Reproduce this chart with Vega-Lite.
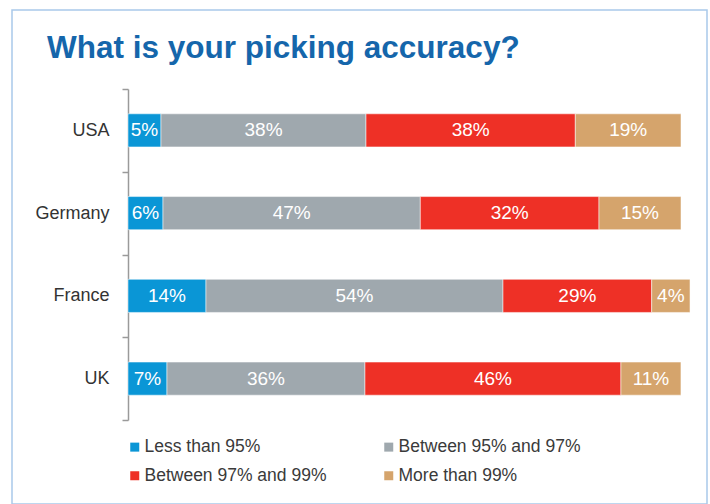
{
  "$schema": "https://vega.github.io/schema/vega-lite/v6.json",
  "width": 695,
  "height": 494,
  "autosize": {"type": "none"},
  "padding": {"left": 12, "top": 10, "right": 3, "bottom": 0},
  "background": "white",
  "title": {
    "text": "What is your picking accuracy?",
    "anchor": "start",
    "frame": "group",
    "font": "Liberation Sans",
    "fontSize": 31.5,
    "fontWeight": "bold",
    "color": "#1566ab",
    "baseline": "alphabetic",
    "offset": 0,
    "dx": 35,
    "dy": 88
  },
  "config": {
    "view": {"stroke": "#a9c9ea", "strokeWidth": 1.5}
  },
  "data": {
    "values": [
      {"country": "USA", "category": "Less than 95%", "value": 5.97, "label": "5%", "order": 1},
      {"country": "USA", "category": "Between 95% and 97%", "value": 37.07, "label": "38%", "order": 2},
      {"country": "USA", "category": "Between 97% and 99%", "value": 37.85, "label": "38%", "order": 3},
      {"country": "USA", "category": "More than 99%", "value": 19.11, "label": "19%", "order": 4},
      {"country": "Germany", "category": "Less than 95%", "value": 6.33, "label": "6%", "order": 1},
      {"country": "Germany", "category": "Between 95% and 97%", "value": 46.53, "label": "47%", "order": 2},
      {"country": "Germany", "category": "Between 97% and 99%", "value": 32.31, "label": "32%", "order": 3},
      {"country": "Germany", "category": "More than 99%", "value": 14.83, "label": "15%", "order": 4},
      {"country": "France", "category": "Less than 95%", "value": 14.1, "label": "14%", "order": 1},
      {"country": "France", "category": "Between 95% and 97%", "value": 53.71, "label": "54%", "order": 2},
      {"country": "France", "category": "Between 97% and 99%", "value": 26.89, "label": "29%", "order": 3},
      {"country": "France", "category": "More than 99%", "value": 6.93, "label": "4%", "order": 4},
      {"country": "UK", "category": "Less than 95%", "value": 7.05, "label": "7%", "order": 1},
      {"country": "UK", "category": "Between 95% and 97%", "value": 35.8, "label": "36%", "order": 2},
      {"country": "UK", "category": "Between 97% and 99%", "value": 46.29, "label": "46%", "order": 3},
      {"country": "UK", "category": "More than 99%", "value": 10.85, "label": "11%", "order": 4}
    ]
  },
  "transform": [
    {"stack": "value", "groupby": ["country"], "sort": [{"field": "order", "order": "ascending"}], "as": ["x0", "x1"]},
    {"calculate": "(datum.x0 + datum.x1) / 2", "as": "mid"}
  ],
  "encoding": {
    "y": {
      "field": "country",
      "type": "nominal",
      "sort": ["USA", "Germany", "France", "UK"],
      "scale": {"range": [79, 410], "paddingInner": 0, "paddingOuter": 0},
      "axis": {
        "title": null,
        "tickBand": "extent",
        "offset": -116,
        "domainColor": "#9a9a9a",
        "domainWidth": 1.5,
        "tickColor": "#9a9a9a",
        "tickWidth": 1.5,
        "tickSize": 6,
        "labelFont": "Liberation Sans",
        "labelFontSize": 18,
        "labelColor": "#333333",
        "labelPadding": 13
      }
    }
  },
  "layer": [
    {
      "mark": {"type": "bar", "height": {"band": 0.4}, "stroke": "#ffffff", "strokeWidth": 1, "strokeOpacity": 0.5},
      "encoding": {
        "x": {"field": "x0", "type": "quantitative", "scale": {"domain": [0, 100], "range": [116, 669], "nice": false, "zero": true}, "axis": null},
        "x2": {"field": "x1"},
        "color": {
          "field": "category",
          "type": "nominal",
          "scale": {
            "domain": ["Less than 95%", "Between 95% and 97%", "Between 97% and 99%", "More than 99%"],
            "range": ["#0a96d6", "#9fa8ae", "#ee3026", "#d5a46c"]
          },
          "legend": {
            "title": null,
            "orient": "none",
            "direction": "horizontal",
            "legendX": 114,
            "legendY": 428,
            "columns": 2,
            "padding": 0,
            "symbolType": "square",
            "symbolSize": 81,
            "symbolStrokeWidth": 0,
            "labelFont": "Liberation Sans",
            "labelFontSize": 17.5,
            "labelColor": "#3a3a3a",
            "labelOffset": 1,
            "labelLimit": 400,
            "columnPadding": 53,
            "rowPadding": 10
          }
        }
      }
    },
    {
      "mark": {"type": "text", "color": "#ffffff", "font": "Liberation Sans", "fontSize": 19, "align": "center", "baseline": "middle"},
      "encoding": {
        "x": {"field": "mid", "type": "quantitative"},
        "text": {"field": "label", "type": "nominal"}
      }
    }
  ]
}
